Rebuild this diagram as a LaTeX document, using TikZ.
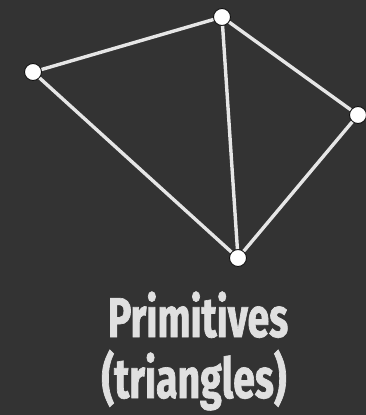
\documentclass[tikz,border=0pt]{standalone}
\usepackage{fontspec}
\setmainfont{Fira Sans}[FakeStretch=0.7, BoldFeatures={FakeBold=1.2}]
\usepackage{xcolor}
\definecolor{slideBack} {HTML}{333333}
\definecolor{meshLine}  {HTML}{E6E6E6}
\definecolor{meshDot}   {HTML}{FFFFFF}
\definecolor{meshRim}   {HTML}{111111}
\definecolor{titleInk}  {HTML}{E0E0E0}

\begin{document}
\begin{tikzpicture}[x=1pt, y=-1pt,
  vert/.style   ={circle, draw=meshRim, line width=0.9pt, fill=meshDot, minimum size=17pt, inner sep=0pt},
  edge/.style   ={line width=3.4pt, meshLine},
  title/.style  ={font=\fontsize{56}{61}\selectfont\bfseries, text=titleInk, align=center, inner sep=0pt},
]

\fill[slideBack] (0,0) rectangle (366,415);
\useasboundingbox (0,0) rectangle (366,415);

% vertices
\node[vert] (vA) at ( 33, 72) {};
\node[vert] (vB) at (222, 17) {};
\node[vert] (vC) at (358,115) {};
\node[vert] (vD) at (238,258) {};

% triangle edges
\draw[edge] (vA) -- (vB);
\draw[edge] (vB) -- (vC);
\draw[edge] (vC) -- (vD);
\draw[edge] (vD) -- (vA);
\draw[edge] (vB) -- (vD);

\node[title, anchor=base] (ttlA) at (198,337) {Primitives};
\node[title, anchor=base] (ttlB) at (194,398) {(triangles)};

\end{tikzpicture}
\end{document}
